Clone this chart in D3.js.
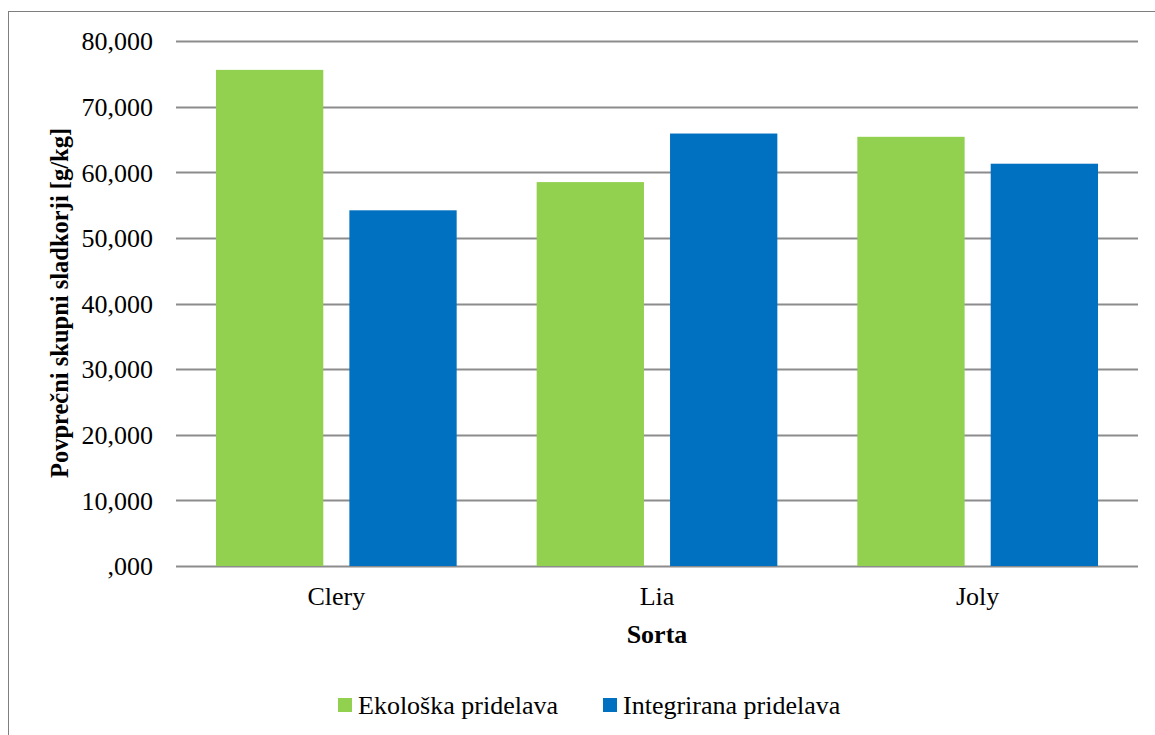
<!DOCTYPE html>
<html><head><meta charset="utf-8">
<script src="https://cdn.jsdelivr.net/npm/d3@7/dist/d3.min.js"></script>
<style>html,body{margin:0;padding:0;background:#fff;}svg{display:block;}
svg text{font-family:"Liberation Serif","Times New Roman",Tinos,"DejaVu Serif",serif;}</style>
</head><body>
<script>
const categories = ["Clery", "Lia", "Joly"];
const seriesNames = ["Ekološka pridelava", "Integrirana pridelava"];
const ekoloska = [75.6, 58.5, 65.4];
const integrirana = [54.2, 65.9, 61.3];
const yTicks = [0, 10, 20, 30, 40, 50, 60, 70, 80];
const yTickLabels = [",000", "10,000", "20,000", "30,000", "40,000", "50,000", "60,000", "70,000", "80,000"];
const colors = ["#92D050", "#0070C0"];

(function () {
const W = 1155, H = 735;
const svg = d3.select("body").append("svg").attr("width", W).attr("height", H);
const FS = 26;

svg.append("rect").attr("x", 8.5).attr("y", 11.5).attr("width", W).attr("height", H)
  .attr("fill", "none").attr("stroke", "#7f7f7f").attr("stroke-width", 1);

const pL = 176, pR = 1138, pT = 41, pB = 566;
const x = d3.scaleBand().domain(categories).range([pL, pR]).paddingInner(0).paddingOuter(0);
const xi = d3.scaleBand().domain(seriesNames).range([40, x.bandwidth() - 40]).paddingInner(26 / 133);
const y = d3.scaleLinear().domain([0, 80]).range([pB, pT]);

const grid = svg.append("g");
grid.selectAll("line").data(yTicks).join("line")
  .attr("x1", pL).attr("x2", pR)
  .attr("y1", d => Math.round(y(d)) + 0.5).attr("y2", d => Math.round(y(d)) + 0.5)
  .attr("stroke", "#8c8c8c").attr("stroke-width", 2);

const yAxis = d3.axisLeft(y).tickValues(yTicks).tickFormat((d, i) => yTickLabels[i]).tickSize(0).tickPadding(0);
const ga = svg.append("g").attr("transform", `translate(${pL - 23},0)`).call(yAxis);
ga.select(".domain").remove();
ga.attr("font-family", null);
ga.selectAll("text").attr("font-size", FS).attr("fill", "#000").attr("dy", "0.34em");

const data = categories.map((c, i) => ({c, vals: [ekoloska[i], integrirana[i]]}));
const g = svg.append("g");
data.forEach(d => {
  d.vals.forEach((v, j) => {
    g.append("rect")
      .attr("x", x(d.c) + xi(seriesNames[j]))
      .attr("width", xi.bandwidth())
      .attr("y", y(v)).attr("height", y(0) - y(v))
      .attr("fill", colors[j]);
  });
});

const xAxis = d3.axisBottom(x).tickSize(0).tickPadding(0);
const gx = svg.append("g").attr("transform", `translate(0,${pB})`).call(xAxis);
gx.select(".domain").remove();
gx.attr("font-family", null);
gx.selectAll("text").attr("font-size", FS).attr("fill", "#000").attr("dy", null).attr("y", 39);

svg.append("text").attr("x", 657).attr("y", 643).attr("text-anchor", "middle")
  .attr("font-size", FS).attr("font-weight", "bold").text("Sorta");

svg.append("text").attr("transform", "translate(68,303) rotate(-90)").attr("text-anchor", "middle")
  .attr("font-size", 24.5).attr("font-weight", "bold").text("Povprečni skupni sladkorji [g/kg]");

const legX = [338, 603];
const leg = svg.append("g");
seriesNames.forEach((s, i) => {
  leg.append("rect").attr("x", legX[i]).attr("y", 698).attr("width", 14).attr("height", 14).attr("fill", colors[i]);
  leg.append("text").attr("x", legX[i] + 20).attr("y", 714).attr("font-size", FS).attr("fill", "#000").text(s);
});
})();
</script>
</body></html>
